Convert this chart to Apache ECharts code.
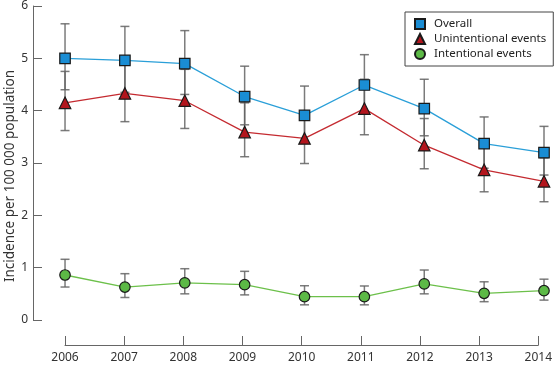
<!DOCTYPE html>
<html><head><meta charset="utf-8">
<script src="https://cdn.jsdelivr.net/npm/echarts@6/dist/echarts.min.js"></script>
<style>html,body{margin:0;padding:0;background:#fff}#c{width:555px;height:366px}</style>
</head><body><div id="c"></div>
<script>
const years = [2006, 2007, 2008, 2009, 2010, 2011, 2012, 2013, 2014];
const yTicks = [0, 1, 2, 3, 4, 5, 6];
const overall = [5.00, 4.96, 4.90, 4.27, 3.91, 4.49, 4.04, 3.37, 3.20];
const overallLow = [4.40, 4.35, 4.31, 3.73, 3.40, 3.95, 3.52, 2.90, 2.77];
const overallHigh = [5.66, 5.61, 5.53, 4.85, 4.47, 5.07, 4.60, 3.88, 3.70];
const unint = [4.15, 4.33, 4.19, 3.59, 3.47, 4.04, 3.34, 2.87, 2.65];
const unintLow = [3.62, 3.79, 3.66, 3.12, 2.99, 3.54, 2.89, 2.45, 2.26];
const unintHigh = [4.75, 4.90, 4.79, 4.15, 3.98, 4.60, 3.85, 3.33, 3.10];
const intent = [0.86, 0.63, 0.71, 0.675, 0.445, 0.445, 0.69, 0.51, 0.56];
const intentLow = [0.63, 0.43, 0.50, 0.48, 0.29, 0.29, 0.50, 0.35, 0.38];
const intentHigh = [1.16, 0.885, 0.98, 0.93, 0.655, 0.65, 0.955, 0.73, 0.78];
const names = ['Overall', 'Unintentional events', 'Intentional events'];

const FONT = 'Noto Sans';
const chart = echarts.init(document.getElementById('c'), null, {renderer: 'canvas'});

function pairs(v) { return years.map((y, i) => [y, v[i]]); }
function errData(lo, hi) { return years.map((y, i) => [y, lo[i], hi[i]]); }

function errorSeries(lo, hi) {
  return {
    type: 'custom', xAxisIndex: 0, yAxisIndex: 0, z: 1, silent: true,
    data: errData(lo, hi),
    renderItem: function (params, api) {
      const x = api.value(0);
      const a = api.coord([x, api.value(1)]);
      const b = api.coord([x, api.value(2)]);
      const w = 4.5;
      const st = {stroke: 'rgba(100,100,100,0.85)', lineWidth: 1.5};
      return {type: 'group', children: [
        {type: 'line', shape: {x1: a[0], y1: a[1], x2: b[0], y2: b[1]}, style: st},
        {type: 'line', shape: {x1: a[0] - w, y1: a[1], x2: a[0] + w, y2: a[1]}, style: st},
        {type: 'line', shape: {x1: b[0] - w, y1: b[1], x2: b[0] + w, y2: b[1]}, style: st}
      ]};
    },
    clip: false
  };
}

function lineSeries(name, vals, sym, fill, lineColor) {
  return {
    name: name, type: 'line', xAxisIndex: 0, yAxisIndex: 0, z: 3,
    data: pairs(vals), symbol: sym, symbolSize: sym === 'triangle' ? 11.5 : (sym === 'rect' ? 10.5 : 10.5),
    clip: false,
    lineStyle: {color: lineColor, width: 1.3},
    itemStyle: {color: fill, borderColor: '#1a1a1a', borderWidth: 1.2},
    emphasis: {disabled: true}
  };
}

chart.setOption({
  animation: false,
  textStyle: {fontFamily: FONT},
  grid: [
    {left: 33, right: 11, top: 6, bottom: 46},
    {left: 65, right: 11, top: 6, bottom: 21}
  ],
  xAxis: [
    {gridIndex: 0, type: 'value', min: 2005.465, max: 2014, show: false},
    {gridIndex: 1, type: 'category', data: years.map(String), boundaryGap: false,
     axisLine: {lineStyle: {color: '#666', width: 1}},
     axisTick: {inside: true, length: 9, lineStyle: {color: '#666'}},
     axisLabel: {color: '#333', fontSize: 12, margin: 7, fontFamily: FONT},
     splitLine: {show: false}}
  ],
  yAxis: [
    {gridIndex: 0, type: 'value', min: yTicks[0], max: yTicks[yTicks.length - 1], interval: 1,
     axisLine: {show: true, lineStyle: {color: '#666', width: 1}},
     axisTick: {show: true, inside: true, length: 9, lineStyle: {color: '#666'}},
     axisLabel: {color: '#333', fontSize: 12, margin: 5, fontFamily: FONT},
     splitLine: {show: false}},
    {gridIndex: 1, type: 'value', min: 0, max: 1, show: false}
  ],
  legend: {
    left: 405, top: 12, orient: 'vertical',
    padding: [6, 7, 6, 9],
    borderColor: '#444', borderWidth: 1, backgroundColor: '#fff',
    itemWidth: 10, itemHeight: 10, itemGap: 3,
    textStyle: {color: '#222', fontSize: 11.5, fontFamily: FONT, padding: [0, 0, 0, 4]},
    data: [
      {name: names[0], icon: 'rect'},
      {name: names[1], icon: 'triangle'},
      {name: names[2], icon: 'circle'}
    ]
  },
  graphic: [{
    type: 'text',
    rotation: Math.PI / 2,
    x: 10, y: 176,
    style: {text: 'Incidence per 100 000 population', font: '13.5px "' + FONT + '"', fill: '#333',
            textAlign: 'center', textVerticalAlign: 'middle'}
  }],
  series: [
    errorSeries(overallLow, overallHigh),
    errorSeries(unintLow, unintHigh),
    errorSeries(intentLow, intentHigh),
    lineSeries(names[0], overall, 'rect', '#1a8dd4', '#2a9fd8'),
    lineSeries(names[1], unint, 'triangle', '#b3151d', '#c42a30'),
    lineSeries(names[2], intent, 'circle', '#5cb946', '#6cc04a')
  ]
});
</script></body></html>
